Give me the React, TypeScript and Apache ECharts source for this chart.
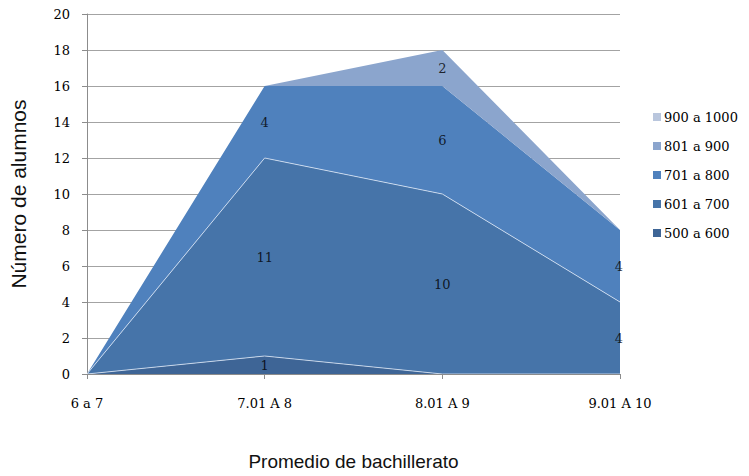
import React, { useEffect, useRef } from "react";
import * as echarts from "echarts";

const categories = ["6 a 7", "7.01 A 8", "8.01 A 9", "9.01 A 10"];
const seriesNames = ["500 a 600", "601 a 700", "701 a 800", "801 a 900", "900 a 1000"];
const s500 = [0, 1, 0, 0];
const s601 = [0, 11, 10, 4];
const s701 = [0, 4, 6, 4];
const s801 = [0, 0, 2, 0];
const s900 = [0, 0, 0, 0];
const seriesValues = [s500, s601, s701, s801, s900];
const colors = ["#3e6596", "#4674a9", "#4f81bd", "#8ba5cd", "#b9c6dd"];
const yTicks = { min: 0, max: 20, interval: 2 };

const labelFont = "'DejaVu Serif', 'Liberation Serif', serif";
const titleFont = "'Liberation Sans', Arial, sans-serif";
const textColor = "#000";

export default function App() {
  const ref = useRef<HTMLDivElement>(null);
  useEffect(() => {
    if (!ref.current) return;
    const chart = echarts.init(ref.current, null, { renderer: "svg" });

    const areaSeries = seriesNames.map((name, si) => ({
      name,
      type: "line",
      stack: "total",
      data: seriesValues[si],
      symbol: "none",
      areaStyle: { color: colors[si], opacity: 1 },
      itemStyle: { color: colors[si] },
      lineStyle:
        si < 2
          ? { width: 1, color: "rgba(230,238,250,0.75)" }
          : { width: 0, color: colors[si] },
      z: 2,
    }));

    const labelData: any[] = [];
    categories.forEach((_, ci) => {
      let base = 0;
      seriesValues.forEach((vals) => {
        const v = vals[ci];
        if (v > 0) {
          const item: any = { value: [ci, base + v / 2, v] };
          if (ci === categories.length - 1) {
            item.label = { align: "right", offset: [3, 0] };
          }
          labelData.push(item);
        }
        base += v;
      });
    });

    const tickFont = {
      fontFamily: labelFont,
      fontSize: 13,
      fontWeight: "normal",
      color: textColor,
    };

    chart.setOption({
      animation: false,
      grid: { left: 85, right: 129, top: 14, bottom: 99 },
      legend: {
        orient: "vertical",
        left: 648,
        top: 105,
        data: [...seriesNames].reverse(),
        icon: "rect",
        itemWidth: 8,
        itemHeight: 8,
        itemGap: 15,
        textStyle: {
          ...tickFont,
          lineHeight: 14,
          padding: [0, 0, 0, -2],
        },
      },
      xAxis: {
        type: "category",
        data: categories,
        boundaryGap: false,
        name: "Promedio de bachillerato",
        nameLocation: "middle",
        nameGap: 78,
        nameTextStyle: { fontFamily: titleFont, fontSize: 19, color: "#111" },
        axisLine: { show: true, lineStyle: { color: "#8c8c8c", width: 1 } },
        axisTick: { show: true, length: 5, lineStyle: { color: "#8c8c8c" } },
        axisLabel: { ...tickFont, margin: 23 },
        splitLine: { show: false },
        z: 5,
      },
      yAxis: {
        type: "value",
        min: yTicks.min,
        max: yTicks.max,
        interval: yTicks.interval,
        name: "Número de alumnos",
        nameLocation: "middle",
        nameRotate: 90,
        nameGap: 58,
        nameTextStyle: { fontFamily: titleFont, fontSize: 21, color: "#111" },
        axisLine: { show: true, lineStyle: { color: "#8c8c8c", width: 1 } },
        axisTick: { show: true, length: 5, lineStyle: { color: "#8c8c8c" } },
        axisLabel: { ...tickFont, margin: 17 },
        splitLine: { show: true, lineStyle: { color: "#a3a3a3", width: 1 } },
      },
      series: [
        ...areaSeries,
        {
          name: "labels",
          type: "scatter",
          data: labelData,
          symbolSize: 0,
          silent: true,
          z: 10,
          label: {
            show: true,
            position: "inside",
            formatter: (p: any) => String(p.value[2]),
            ...tickFont,
          },
        },
      ],
    });
    return () => chart.dispose();
  }, []);
  return (
    <div
      ref={ref}
      style={{ position: "absolute", left: 0, top: 0, width: 749, height: 476, background: "#fff" }}
    />
  );
}
